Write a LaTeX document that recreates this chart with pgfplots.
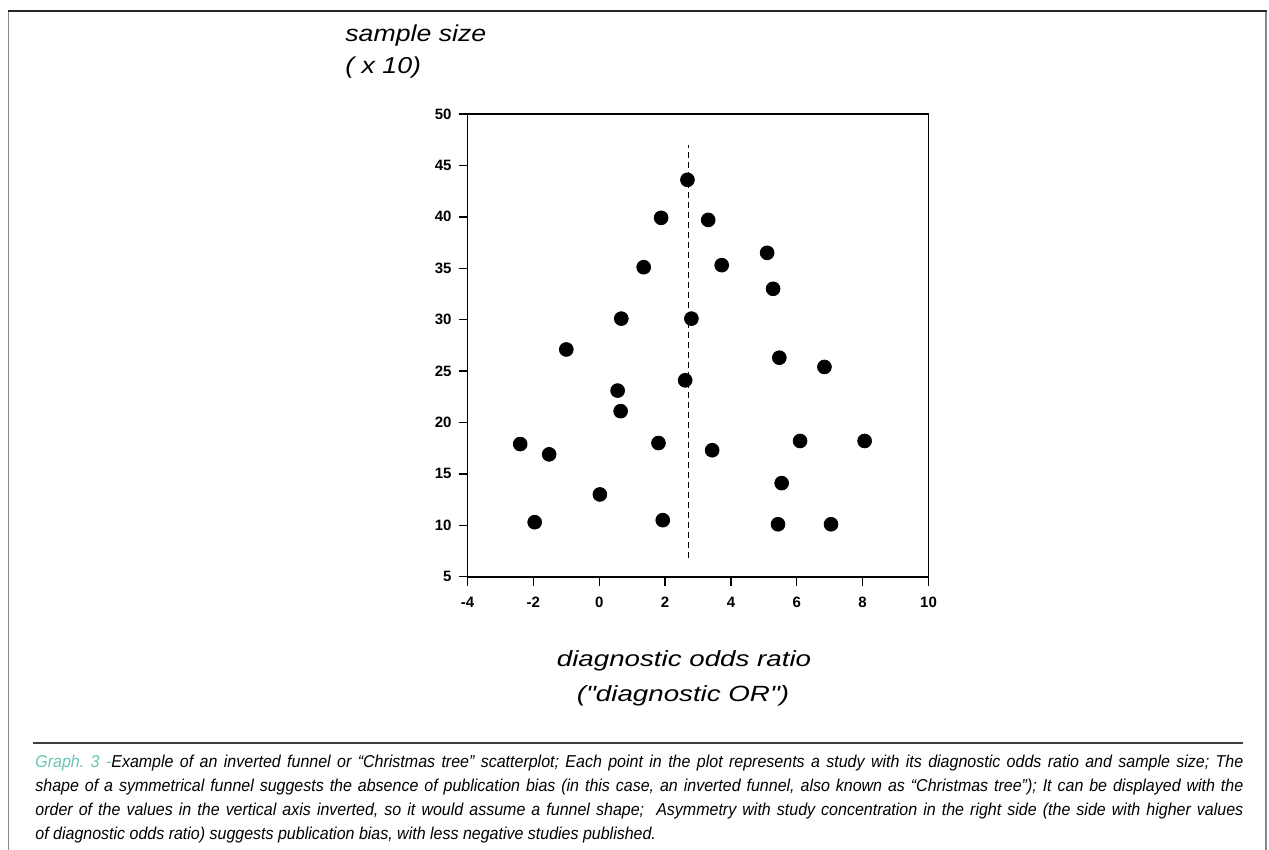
\documentclass[border=0pt]{standalone}
\usepackage{pgfplots}
\pgfplotsset{compat=1.18}
\usepackage{fontspec}
\setmainfont{Liberation Sans}
\newfontfamily\titfont[FakeStretch=1.16]{Liberation Sans}
\newfontfamily\labfont[FakeStretch=1.26]{Liberation Sans}
\newfontfamily\capfont[FakeStretch=0.93]{Liberation Sans}
\definecolor{graphteal}{RGB}{104,196,182}
\definecolor{framegray}{RGB}{136,136,136}
\frenchspacing

\pgfplotstableread{
x y
2.68 43.6
1.88 39.9
3.31 39.7
5.10 36.5
1.35 35.1
3.72 35.3
5.28 33.0
0.67 30.1
2.80 30.1
-1.00 27.1
5.47 26.3
6.84 25.4
2.61 24.1
0.56 23.1
0.65 21.1
-2.40 17.9
1.80 18.0
6.10 18.2
8.06 18.2
-1.52 16.9
3.43 17.3
5.54 14.1
0.02 13.0
-1.96 10.3
1.93 10.5
5.43 10.1
7.04 10.1
}\studies

\begin{document}
\begin{tikzpicture}[x=0.5pt,y=-0.5pt]
\useasboundingbox (0,0) rectangle (1269,850);
% outer frame
\draw[line width=0.9pt,framegray] (8.5,11) -- (8.5,850);
\draw[line width=0.9pt,framegray] (1266,11) -- (1266,850);
\draw[line width=0.8pt,black!85] (8,11) -- (1266.5,11);

\begin{axis}[
    at={(233.75pt,-288.35pt)},
    anchor=south west,
    scale only axis,
    width=230.5pt,
    height=231.35pt,
    xmin=-4, xmax=10,
    ymin=5, ymax=50,
    xtick={-4,-2,...,10},
    ytick={5,10,...,50},
    tick align=outside,
    tick pos=left,
    major tick length=4.5pt,
    axis line style={line width=0.8pt},
    every tick/.style={line width=0.7pt,black},
    tick label style={font=\bfseries\fontsize{7.5}{9}\selectfont},
    xticklabel style={yshift=-2pt},
    /pgf/number format/assume math mode=true,
    clip=false
]
\addplot[only marks, mark=*, mark size=3.45pt, black] table {\studies};
\addplot[black, line width=0.8pt, dash pattern=on 3pt off 2pt] coordinates {(2.71,6.8) (2.71,47)};
\end{axis}

% axis titles
\node[anchor=base west,inner sep=0] at (345,41.7) {\titfont\itshape\fontsize{11.5}{13}\selectfont sample size};
\node[anchor=base west,inner sep=0] at (345,73.3) {\titfont\itshape\fontsize{11.5}{13}\selectfont ( x 10)};
\node[anchor=base,inner sep=0] at (684,666.5) {\labfont\itshape\fontsize{11}{13}\selectfont diagnostic odds ratio};
\node[anchor=base,inner sep=0] at (683,701.5) {\labfont\itshape\fontsize{11}{13}\selectfont ("diagnostic OR")};

% caption
\draw[line width=0.6pt,black!75] (33,743) -- (1243,743);
\node[anchor=base west,inner sep=0,text width=604pt,align=justify] at (35,767)
{\capfont\itshape\fontsize{8.6}{11}\selectfont
{\color{graphteal}Graph. 3 -}Example of an inverted funnel or “Christmas tree” scatterplot; Each point in the plot represents a study with its diagnostic odds ratio and sample size; The\linebreak
shape of a symmetrical funnel suggests the absence of publication bias (in this case, an inverted funnel, also known as “Christmas tree”); It can be displayed with the\linebreak
order of the values in the vertical axis inverted, so it would assume a funnel shape;\ \ Asymmetry with study concentration in the right side (the side with higher values\linebreak
of diagnostic odds ratio) suggests publication bias, with less negative studies published.};
\end{tikzpicture}
\end{document}
